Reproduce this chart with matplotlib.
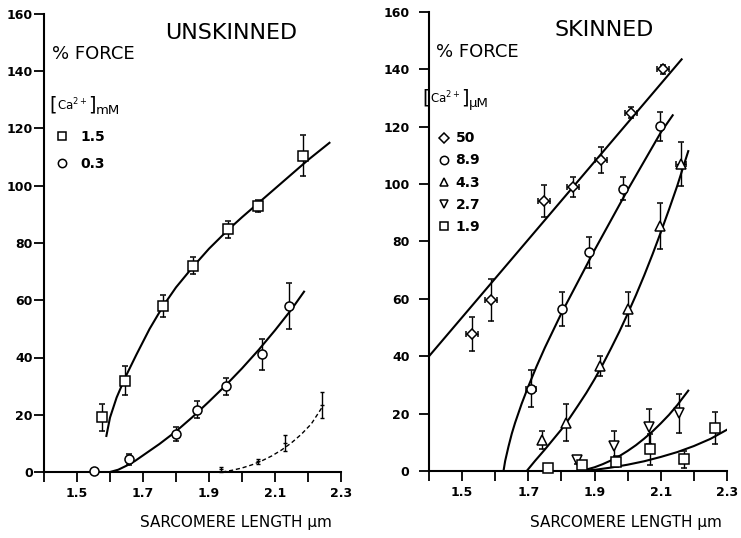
import matplotlib
matplotlib.use("Agg")
import matplotlib.pyplot as plt
from matplotlib.lines import Line2D
from matplotlib.ticker import MultipleLocator

# ---------------------------------------------------------------- unskinned
uns_sq_x = [1.577, 1.646, 1.761, 1.851, 1.957, 2.048, 2.184]
uns_sq_y = [19.1, 31.9, 58.0, 72.0, 84.8, 93.0, 110.5]
uns_sq_err = [4.7, 5.0, 4.0, 3.0, 3.0, 2.0, 7.2]
uns_sq_fit_x = [1.589, 1.60, 1.62, 1.646, 1.68, 1.72, 1.761, 1.80, 1.85,
                1.90, 1.957, 2.00, 2.05, 2.10, 2.15, 2.20, 2.265]
uns_sq_fit_y = [12.6, 19.0, 26.0, 33.0, 41.0, 50.0, 58.0, 64.5, 71.5,
                78.0, 84.5, 89.0, 94.0, 99.0, 104.0, 109.0, 115.0]

uns_ci_x = [1.552, 1.657, 1.799, 1.865, 1.952, 2.061, 2.143]
uns_ci_y = [0.5, 4.4, 13.3, 21.8, 30.0, 41.1, 58.0]
uns_ci_err = [0.0, 2.0, 2.5, 3.0, 3.0, 5.5, 8.0]
uns_ci_fit_x = [1.60, 1.625, 1.65, 1.675, 1.70, 1.75, 1.80, 1.85, 1.90,
                1.95, 2.00, 2.05, 2.10, 2.15, 2.188]
uns_ci_fit_y = [0.0, 0.8, 2.2, 3.8, 5.8, 9.8, 14.2, 19.2, 24.6,
                30.2, 36.2, 42.6, 49.5, 56.8, 63.0]

uns_low_x = [1.935, 2.050, 2.130, 2.242]
uns_low_y = [0.9, 3.7, 10.2, 23.4]
uns_low_err = [1.0, 1.0, 2.7, 4.4]
uns_low_fit_x = [1.94, 1.97, 2.00, 2.03, 2.06, 2.09, 2.12, 2.15, 2.18,
                 2.21, 2.245]
uns_low_fit_y = [0.0, 0.6, 1.4, 2.5, 3.9, 5.6, 7.7, 10.2, 13.2, 16.8, 23.0]

# ------------------------------------------------------------------ skinned
sk_50_x = [1.531, 1.586, 1.747, 1.836, 1.920, 2.010, 2.108]
sk_50_y = [47.8, 59.6, 94.2, 98.9, 108.4, 124.9, 140.0]
sk_50_err = [6.0, 7.3, 5.5, 3.5, 4.5, 2.0, 1.5]
sk_50_fit_x = [1.40, 2.163]
sk_50_fit_y = [40.0, 143.5]

sk_89_x = [1.708, 1.803, 1.883, 1.985, 2.098]
sk_89_y = [28.7, 56.4, 76.2, 98.4, 120.2]
sk_89_err = [6.5, 6.0, 5.5, 4.0, 5.0]
sk_89_xerr = [0.015, 0, 0, 0, 0]
sk_89_fit_x = [1.625, 1.63, 1.64, 1.65, 1.66, 1.68, 1.70, 1.725, 1.75,
               1.775, 1.80, 1.85, 1.90, 1.95, 2.00, 2.05, 2.10, 2.136]
sk_89_fit_y = [0.0, 3.5, 8.5, 13.0, 16.8, 23.5, 29.5, 36.5, 43.0,
               49.0, 55.0, 66.0, 77.0, 87.5, 98.0, 108.0, 118.0, 124.0]

sk_43_x = [1.740, 1.813, 1.917, 2.002, 2.098, 2.160]
sk_43_y = [10.8, 16.8, 36.6, 56.5, 85.5, 107.0]
sk_43_err = [3.0, 6.4, 3.5, 6.0, 8.0, 7.7]
sk_43_xerr = [0, 0, 0, 0, 0, 0.015]
sk_43_fit_x = [1.695, 1.72, 1.75, 1.775, 1.80, 1.825, 1.85, 1.875, 1.90,
               1.925, 1.95, 1.975, 2.00, 2.025, 2.05, 2.075, 2.10, 2.125,
               2.15, 2.183]
sk_43_fit_y = [0.0, 3.5, 7.5, 11.0, 14.5, 18.5, 22.8, 27.2, 32.0,
               37.2, 42.8, 48.6, 54.8, 61.3, 68.2, 75.5, 83.2, 91.2,
               99.5, 111.5]

sk_27_x = [1.848, 1.959, 2.063, 2.156]
sk_27_y = [3.8, 8.7, 15.5, 20.1]
sk_27_err = [1.5, 5.2, 6.0, 6.9]
sk_27_fit_x = [1.85, 1.875, 1.90, 1.925, 1.95, 1.975, 2.00, 2.025, 2.05,
               2.075, 2.10, 2.125, 2.15, 2.183]
sk_27_fit_y = [0.0, 0.5, 1.3, 2.4, 3.7, 5.2, 7.0, 9.0, 11.3,
               13.8, 16.6, 19.6, 23.0, 28.0]

sk_19_x = [1.760, 1.861, 1.965, 2.066, 2.170, 2.264]
sk_19_y = [1.2, 2.1, 3.3, 7.5, 4.1, 14.9]
sk_19_err = [1.0, 1.0, 2.0, 5.5, 3.0, 5.6]
sk_19_fit_x = [1.85, 1.90, 1.95, 2.00, 2.05, 2.10, 2.15, 2.20, 2.25, 2.30]
sk_19_fit_y = [0.0, 0.4, 1.2, 2.2, 3.4, 4.9, 6.6, 8.7, 11.2, 14.4]

x_major = [1.5, 1.7, 1.9, 2.1, 2.3]
x_labels = ["1.5", "1.7", "1.9", "2.1", "2.3"]

plt.rcParams["font.family"] = ["DejaVu Sans"]

fig = plt.figure(figsize=(7.41, 5.38), dpi=100)
ax1 = fig.add_axes([44 / 741, 66 / 538, 297 / 741, 458 / 538])
ax2 = fig.add_axes([429 / 741, 67 / 538, 298 / 741, 459 / 538])

mk = dict(mfc="white", mec="black", mew=1.1, ms=6.5, ecolor="black",
          elinewidth=1.0, capsize=2, capthick=1.0, clip_on=False, zorder=3)


def style(ax, ypad):
    ax.set_xlim(1.4, 2.3)
    ax.set_ylim(0, 160)
    for s in ("top", "right"):
        ax.spines[s].set_visible(False)
    for s in ("left", "bottom"):
        ax.spines[s].set_linewidth(1.5)
    ax.set_xticks(x_major)
    ax.set_xticklabels(x_labels)
    ax.set_xticks([1.4, 1.6, 1.8, 2.0, 2.2], minor=True)
    ax.yaxis.set_major_locator(MultipleLocator(20))
    ax.tick_params(axis="both", which="both", direction="out", length=7,
                   width=1.3, labelsize=9)
    ax.tick_params(axis="y", pad=ypad)
    ax.tick_params(axis="x", pad=4)
    for lab in ax.get_xticklabels() + ax.get_yticklabels():
        lab.set_fontweight("bold")


def ca_label(ax, xs, y, unit):
    # brackets drawn taller than the text, as in the figure
    ax.text(xs[0], y, "[", fontsize=14, ha="center", va="center")
    ax.text(xs[1], y, r"Ca$^{2+}$", fontsize=8.5, ha="left", va="center")
    ax.text(xs[2], y, "]", fontsize=14, ha="center", va="center")
    ax.text(xs[3], y - 2, unit, fontsize=9.5, ha="left", va="center")


def legend_handles(ax):
    hs = []
    for c in ax.containers:
        line = c.lines[0]
        hs.append(Line2D([], [], ls="none", marker=line.get_marker(),
                         mfc="white", mec="black", mew=1.1,
                         ms=line.get_markersize() - 0.5))
    return hs


# ---- left panel
style(ax1, 1)
ax1.plot(uns_sq_fit_x, uns_sq_fit_y, color="black", lw=1.5)
ax1.plot(uns_ci_fit_x, uns_ci_fit_y, color="black", lw=1.5)
ax1.plot(uns_low_fit_x, uns_low_fit_y, color="black", lw=1.0, ls=(0, (3, 2)))
ax1.errorbar(uns_sq_x, uns_sq_y, yerr=uns_sq_err, fmt="s", label="1.5", **mk)
ax1.errorbar(uns_ci_x, uns_ci_y, yerr=uns_ci_err, fmt="o", label="0.3", **mk)
ax1.text(1.967, 153.4, "UNSKINNED", fontsize=16, ha="center", va="center")
ax1.text(1.424, 146, "% FORCE", fontsize=13, ha="left", va="center")
ca_label(ax1, [1.4288, 1.4394, 1.5455, 1.5576], 128.2, "mM")
ax1.legend(legend_handles(ax1), ["1.5", "0.3"], loc="upper left",
           bbox_to_anchor=(0.02, 0.762), frameon=False, numpoints=1,
           handlelength=0.8, handletextpad=0.9, labelspacing=0.95,
           borderpad=0, prop=dict(size=10, weight="bold"))
ax1.errorbar(uns_low_x, uns_low_y, yerr=uns_low_err, fmt="_", color="black",
             ms=3, elinewidth=1.0, capsize=1.5, clip_on=False)

# ---- right panel
style(ax2, 7)
for fx, fy in [(sk_50_fit_x, sk_50_fit_y), (sk_89_fit_x, sk_89_fit_y),
               (sk_43_fit_x, sk_43_fit_y), (sk_27_fit_x, sk_27_fit_y),
               (sk_19_fit_x, sk_19_fit_y)]:
    ax2.plot(fx, fy, color="black", lw=1.5)
ax2.errorbar(sk_50_x, sk_50_y, yerr=sk_50_err, xerr=0.018, fmt="D",
             label="50", **{**mk, "ms": 5.5})
ax2.errorbar(sk_89_x, sk_89_y, yerr=sk_89_err, xerr=sk_89_xerr, fmt="o",
             label="8.9", **mk)
ax2.errorbar(sk_43_x, sk_43_y, yerr=sk_43_err, xerr=sk_43_xerr, fmt="^",
             label="4.3", **mk)
ax2.errorbar(sk_27_x, sk_27_y, yerr=sk_27_err, fmt="v", label="2.7", **mk)
ax2.errorbar(sk_19_x, sk_19_y, yerr=sk_19_err, fmt="s", label="1.9", **mk)

ax2.text(1.929, 153.7, "SKINNED", fontsize=16, ha="center", va="center")
ax2.text(1.421, 146, "% FORCE", fontsize=13, ha="left", va="center")
ca_label(ax2, [1.3925, 1.403, 1.5088, 1.5209], 130, "µM")
ax2.legend(legend_handles(ax2), ["50", "8.9", "4.3", "2.7", "1.9"],
           loc="upper left", bbox_to_anchor=(0.01, 0.755), frameon=False,
           numpoints=1, handlelength=0.8, handletextpad=0.4,
           labelspacing=0.58, borderpad=0, prop=dict(size=10, weight="bold"))

fig.text(236 / 741, 1 - 523 / 538, "SARCOMERE LENGTH µm", fontsize=11,
         ha="center", va="center")
fig.text(626 / 741, 1 - 523 / 538, "SARCOMERE LENGTH µm", fontsize=11,
         ha="center", va="center")

fig.savefig("out.png", dpi=100)
